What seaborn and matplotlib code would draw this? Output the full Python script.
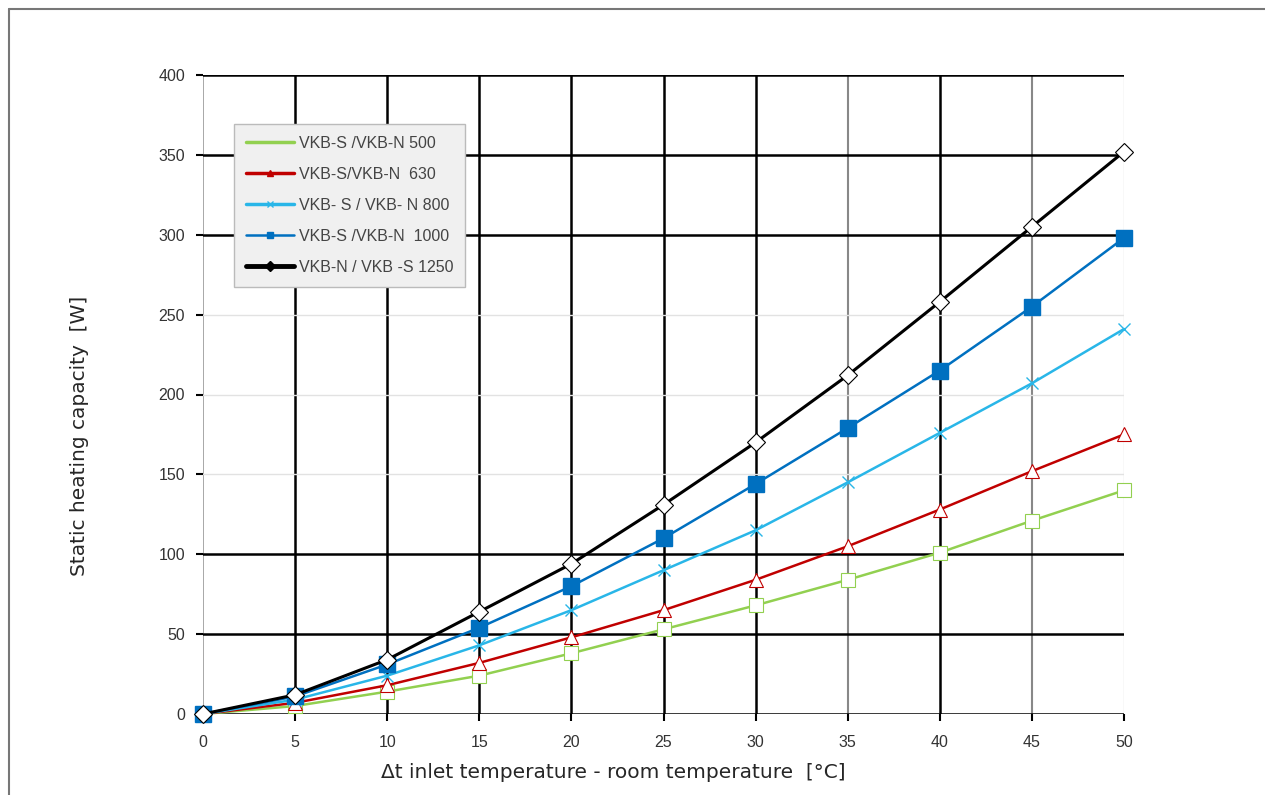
import pandas as pd
import matplotlib.pyplot as plt
import seaborn as sns
from matplotlib.lines import Line2D

# Data
delta_t = [0, 5, 10, 15, 20, 25, 30, 35, 40, 45, 50]
vkb_500 = [0, 5, 14, 24, 38, 53, 68, 84, 101, 121, 140]
vkb_630 = [0, 7, 18, 32, 48, 65, 84, 105, 128, 152, 175]
vkb_800 = [0, 9, 24, 43, 65, 90, 115, 145, 176, 207, 241]
vkb_1000 = [0, 11, 31, 54, 80, 110, 144, 179, 215, 255, 298]
vkb_1250 = [0, 12, 34, 64, 94, 131, 170, 212, 258, 305, 352]

labels = ['VKB-S /VKB-N 500', 'VKB-S/VKB-N  630', 'VKB- S / VKB- N 800',
          'VKB-S /VKB-N  1000', 'VKB-N / VKB -S 1250']
series = [vkb_500, vkb_630, vkb_800, vkb_1000, vkb_1250]

colors = ['#92d050', '#c00000', '#29b6e8', '#0070c0', '#000000']
markers = ['s', '^', 'x', 's', 'D']
msizes = [10, 10, 9, 11, 9]
filled = [False, False, True, True, False]
widths = [1.8, 1.8, 1.8, 1.8, 2.2]

sns.set_style('white')
fig = plt.figure(figsize=(12.65, 7.95), dpi=100)
ax = fig.add_axes([203 / 1265, 1 - 714 / 795, 921 / 1265, 639 / 795])

for lab, vals, c, m, ms, f, lw in zip(labels, series, colors, markers, msizes, filled, widths):
    df = pd.DataFrame({'x': delta_t, 'y': vals})
    sns.lineplot(data=df, x='x', y='y', ax=ax, color=c, linewidth=lw, marker=m,
                 markersize=ms, markerfacecolor=(c if f else 'white'),
                 markeredgecolor=c, markeredgewidth=1.0 if f else 0.8,
                 clip_on=False, zorder=5, legend=False)

ax.set_xlim(0, 50)
ax.set_ylim(0, 400)
ax.set_xticks(range(0, 51, 5))
ax.set_yticks(range(0, 401, 50))
ax.set_xlabel('')
ax.set_ylabel('')

for s in ax.spines.values():
    s.set_visible(False)

ax.grid(True, zorder=0)
ax.set_axisbelow(True)
xg_colors = ['#999999', 'black', 'black', 'black', 'black', 'black', 'black',
             '#888888', 'black', '#888888', '#dddddd']
xg_widths = [1.2, 1.8, 1.8, 1.8, 1.8, 1.8, 1.8, 1.5, 1.8, 1.5, 1.0]
for gl, c, w in zip(ax.get_xgridlines(), xg_colors, xg_widths):
    gl.set_color(c)
    gl.set_linewidth(w)
yg_colors = ['black', 'black', 'black', '#e2e2e2', '#e2e2e2', '#e2e2e2',
             'black', 'black', 'black']
yg_widths = [1.8, 1.8, 1.8, 1.0, 1.0, 1.0, 1.8, 1.8, 1.8]
for gl, c, w in zip(ax.get_ygridlines(), yg_colors, yg_widths):
    gl.set_color(c)
    gl.set_linewidth(w)

ax.tick_params(axis='both', which='both', length=5, width=1.5, color='black',
               labelsize=11.5, labelcolor='#333333', direction='out',
               bottom=True, left=True)
ax.tick_params(axis='x', pad=10)
ax.tick_params(axis='y', pad=8)
for t in ax.get_xticklabels() + ax.get_yticklabels():
    t.set_family('Liberation Sans')

handles = [Line2D([0], [0], color=c, lw=lw, marker=m, markersize=5,
                  markerfacecolor=c, markeredgecolor=c)
           for c, m, lw in zip(colors, markers, [2.5, 2.5, 2.5, 1.8, 3.5])]
handles[0].set_marker('None')
leg = ax.legend(handles, labels, loc='upper left',
                bbox_to_anchor=((234 - 203) / 921, 1 - (124 - 75) / 639),
                borderaxespad=0, fontsize=11.5, labelspacing=1.0,
                handlelength=3.0, handletextpad=0.3, fancybox=False,
                framealpha=1, facecolor='#f0f0f0', edgecolor='#bbbbbb',
                borderpad=0.75)
leg.get_frame().set_linewidth(1.0)
for t in leg.get_texts():
    t.set_color('#444444')
    t.set_family('Liberation Sans')
leg.set_zorder(10)

fig.text(80 / 1265, 1 - 436 / 795, 'Static heating capacity  [W]', rotation=90,
         ha='center', va='center', fontsize=14.5, family='DejaVu Sans')
fig.text(613 / 1265, 1 - 772 / 795,
         '\u0394t inlet temperature - room temperature  [\u00b0C]',
         ha='center', va='center', fontsize=14.5, family='DejaVu Sans')

# outer frame of the original figure
fig.add_artist(Line2D([9 / 1265, 1], [1 - 9 / 795, 1 - 9 / 795],
                      transform=fig.transFigure, color='#777777', lw=1.5))
fig.add_artist(Line2D([9 / 1265, 9 / 1265], [0, 1 - 9 / 795],
                      transform=fig.transFigure, color='#777777', lw=1.5))

fig.savefig('out.png', dpi=100)
